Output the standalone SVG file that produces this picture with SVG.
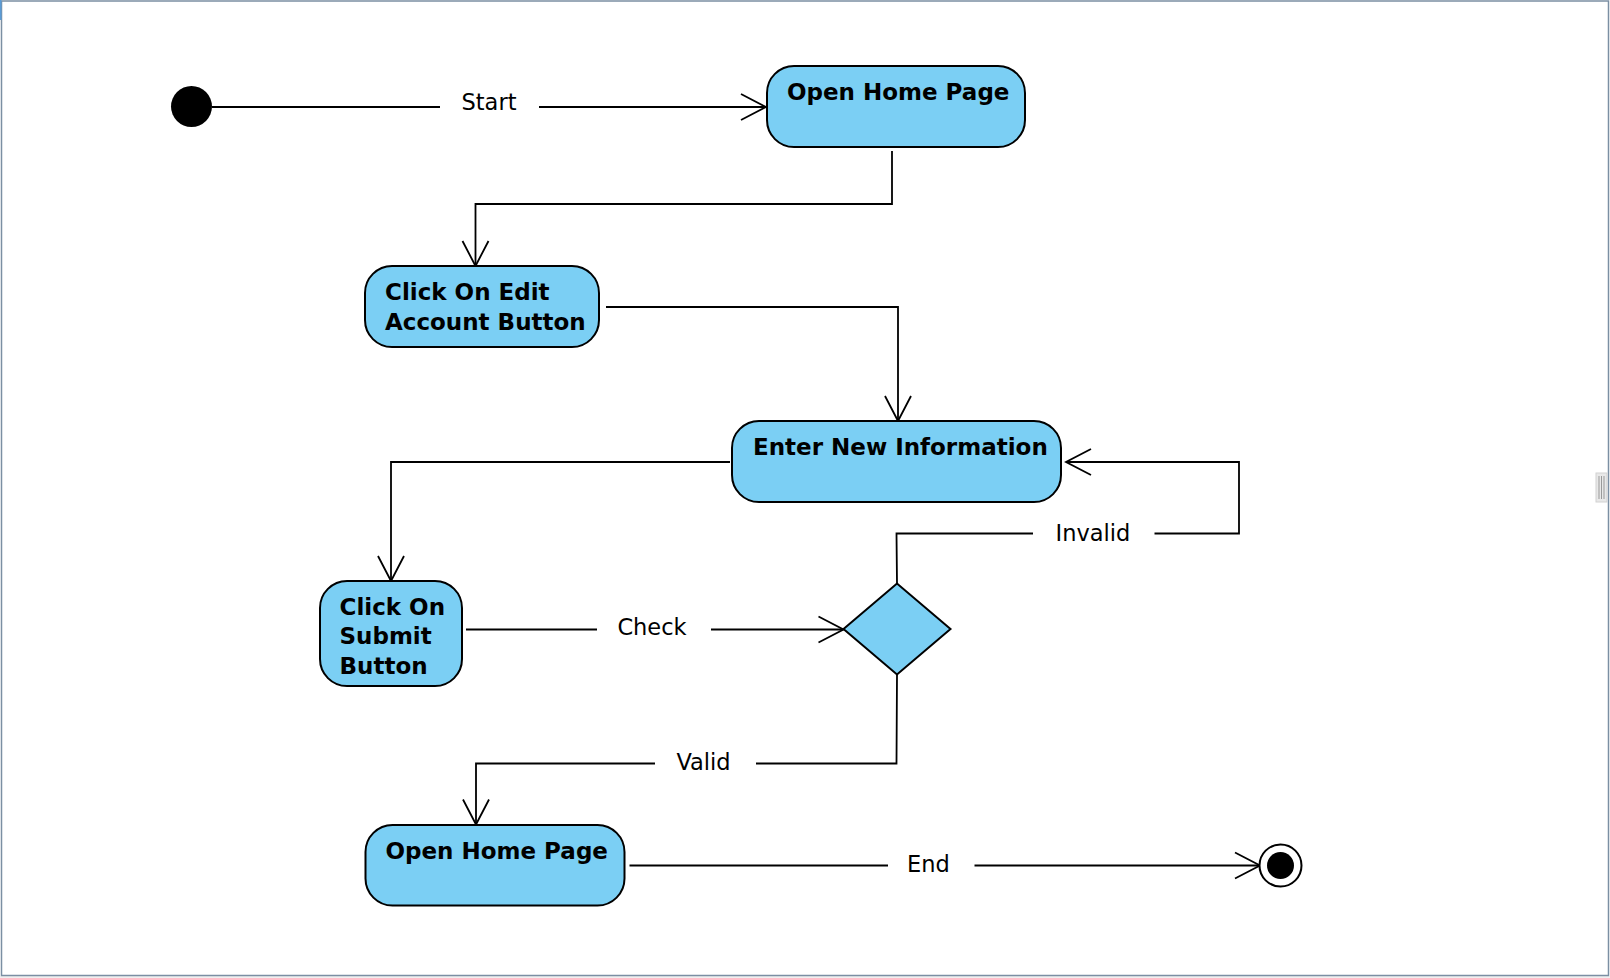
<svg xmlns="http://www.w3.org/2000/svg" width="1610" height="978" viewBox="0 0 1610 978">
<style>
.node{fill:#7BCFF4;stroke:#000;stroke-width:2}
.nt{font-family:"DejaVu Sans",sans-serif;font-weight:bold;font-size:23px;fill:#000}
.lbl{font-family:"DejaVu Sans",sans-serif;font-size:22.5px;fill:#000;text-anchor:middle}
.ln{fill:none;stroke:#000;stroke-width:1.8}
</style>
<defs>
<marker id="arr" viewBox="-28 -16 30 32" refX="0" refY="0" markerWidth="30" markerHeight="32" markerUnits="userSpaceOnUse" orient="auto" overflow="visible">
<path d="M-25,-13 L0,0 L-25,13" fill="none" stroke="#000" stroke-width="1.8"/>
</marker>
</defs>
<rect x="0" y="0" width="1610" height="978" fill="#fff"/>
<rect x="0" y="976" width="1610" height="2" fill="#efefef"/>
<rect x="1.5" y="1" width="1607" height="974.5" fill="none" stroke="#7b8fa3" stroke-width="1.5"/>
<rect x="0" y="0" width="1.5" height="20" fill="#5b9bd5"/>
<g id="scroll-handle">
<rect x="1596" y="473" width="11" height="29" fill="#e8e8e8" stroke="#d2d2d2"/>
<line x1="1599" y1="476" x2="1599" y2="499" stroke="#999"/>
<line x1="1601.5" y1="476" x2="1601.5" y2="499" stroke="#999"/>
<line x1="1604" y1="476" x2="1604" y2="499" stroke="#999"/>
</g>
<g id="connectors">
<line class="ln" x1="212" y1="107" x2="440" y2="107"/>
<line class="ln" x1="539" y1="107" x2="766" y2="107" marker-end="url(#arr)"/>
<text class="lbl" x="489" y="110">Start</text>
<polyline class="ln" points="892,151 892,204 475.5,204 475.5,266" marker-end="url(#arr)"/>
<polyline class="ln" points="606,307 898,307 898,421" marker-end="url(#arr)"/>
<polyline class="ln" points="730,462 391,462 391,581" marker-end="url(#arr)"/>
<line class="ln" x1="466" y1="629.5" x2="597" y2="629.5"/>
<line class="ln" x1="711" y1="629.5" x2="843.5" y2="629.5" marker-end="url(#arr)"/>
<text class="lbl" x="652" y="635">Check</text>
<polyline class="ln" points="897,583.5 896.5,533.5 1033,533.5"/>
<polyline class="ln" points="1154.5,533.5 1239,533.5 1239,462 1066,462" marker-end="url(#arr)"/>
<text class="lbl" x="1093" y="541">Invalid</text>
<polyline class="ln" points="897,674.5 896.5,763.5 756,763.5"/>
<polyline class="ln" points="655,763.5 476,763.5 476,824.5" marker-end="url(#arr)"/>
<text class="lbl" x="703.5" y="770">Valid</text>
<line class="ln" x1="629.5" y1="865.5" x2="888" y2="865.5"/>
<line class="ln" x1="974.5" y1="865.5" x2="1260" y2="865.5" marker-end="url(#arr)"/>
<text class="lbl" x="928.5" y="872">End</text>
</g>
<g id="initial">
<circle cx="191.5" cy="106.5" r="20.5" fill="#000"/>
</g>
<g id="open-home-page-1">
<rect class="node" x="767" y="66" width="258" height="81" rx="27" ry="27"/>
<text class="nt" x="787" y="100">Open Home Page</text>
</g>
<g id="click-edit-account">
<rect class="node" x="365" y="266" width="234" height="81" rx="27" ry="27"/>
<text class="nt" x="385" y="300">Click On Edit</text>
<text class="nt" x="385" y="329.5">Account Button</text>
</g>
<g id="enter-new-information">
<rect class="node" x="732" y="421" width="329" height="81" rx="27" ry="27"/>
<text class="nt" x="753" y="454.5">Enter New Information</text>
</g>
<g id="click-submit">
<rect class="node" x="320" y="581" width="142" height="105" rx="27" ry="27"/>
<text class="nt" x="339.5" y="614.5">Click On</text>
<text class="nt" x="339.5" y="644">Submit</text>
<text class="nt" x="339.5" y="673.5">Button</text>
</g>
<g id="decision">
<polygon class="node" points="843.5,629 897,583.5 950.5,629 897,674.5"/>
</g>
<g id="open-home-page-2">
<rect class="node" x="365.5" y="825" width="259" height="80.5" rx="27" ry="27"/>
<text class="nt" x="385.5" y="859">Open Home Page</text>
</g>
<g id="final">
<circle cx="1280.5" cy="865.5" r="21" fill="#fff" stroke="#000" stroke-width="2"/>
<circle cx="1280.5" cy="865.5" r="13.5" fill="#000"/>
</g>
</svg>
